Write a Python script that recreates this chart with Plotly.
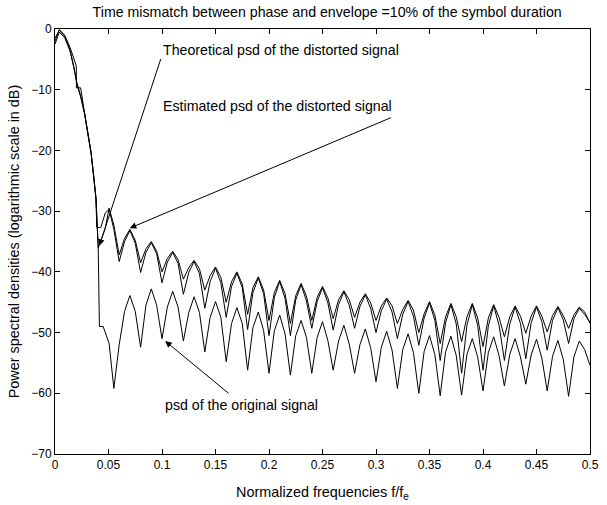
import plotly.graph_objects as go

# ---------------- data ----------------
# common frequency grid for the side-lobe region
freq_tail = [0.06, 0.065, 0.07, 0.075, 0.08, 0.085, 0.09, 0.095, 0.10, 0.105,
             0.11, 0.115, 0.12, 0.125, 0.13, 0.135, 0.14, 0.145, 0.15, 0.155,
             0.16, 0.165, 0.17, 0.175, 0.18, 0.185, 0.19, 0.195, 0.20, 0.205,
             0.21, 0.215, 0.22, 0.225, 0.23, 0.235, 0.24, 0.245, 0.25, 0.255,
             0.26, 0.265, 0.27, 0.275, 0.28, 0.285, 0.29, 0.295, 0.30, 0.305,
             0.31, 0.315, 0.32, 0.325, 0.33, 0.335, 0.34, 0.345, 0.35, 0.355,
             0.36, 0.365, 0.37, 0.375, 0.38, 0.385, 0.39, 0.395, 0.40, 0.405,
             0.41, 0.415, 0.42, 0.425, 0.43, 0.435, 0.44, 0.445, 0.45, 0.455,
             0.46, 0.465, 0.47, 0.475, 0.48, 0.485, 0.49, 0.495, 0.50]

# main lobe (per series)
theo_head_f = [0, 0.004, 0.009, 0.014, 0.0175, 0.0205, 0.024, 0.0276, 0.0306,
               0.0337, 0.0361, 0.0383, 0.0404, 0.047, 0.0506, 0.055]
theo_head_db = [-1.5, -0.2, -1.2, -3.4, -6.1, -8.9, -11.0, -13.8, -17.0,
                -20.3, -24.1, -27.9, -36.1, -32.8, -29.5, -32.3]

est_head_f = [0, 0.004, 0.009, 0.014, 0.0175, 0.0205, 0.024, 0.0276, 0.0306,
              0.0337, 0.0361, 0.0383, 0.039, 0.0428, 0.047, 0.0506, 0.055]
est_head_db = [-2.5, -0.5, -1.4, -3.6, -6.3, -9.1, -11.2, -14.0, -17.2,
               -20.5, -24.3, -28.0, -32.7, -32.7, -30.3, -29.7, -33.0]

orig_head_f = [0, 0.004, 0.009, 0.014, 0.0175, 0.0199, 0.02, 0.024, 0.0276,
               0.0306, 0.0337, 0.0361, 0.0383, 0.0404, 0.0415, 0.045, 0.0506, 0.055]
orig_head_db = [-2.0, -0.1, -1.0, -3.0, -4.8, -6.1, -9.7, -9.7, -13.8,
                -17.0, -20.3, -24.1, -27.9, -36.0, -49.0, -49.0, -51.8, -59.2]

theo_tail_db = [-37.2, -34.5, -33.0, -34.8, -38.5, -36.2, -35.0, -36.6, -40.0, -37.8,
                -36.6, -38.0, -41.2, -39.3, -38.1, -39.5, -43.0, -40.6, -39.2, -40.9,
                -45.0, -41.6, -40.0, -42.0, -47.0, -42.6, -40.8, -43.0, -48.0, -43.4,
                -41.4, -43.6, -48.5, -43.9, -41.9, -44.0, -48.0, -44.2, -42.4, -44.3,
                -47.7, -44.6, -43.1, -44.6, -47.5, -45.0, -43.6, -45.1, -48.0, -45.6,
                -44.3, -45.6, -48.5, -46.2, -44.7, -46.3, -50.0, -46.9, -44.9, -47.1,
                -51.8, -47.4, -45.2, -47.4, -51.5, -47.4, -45.2, -47.6, -52.3, -47.6,
                -45.4, -47.5, -50.7, -47.4, -45.6, -47.3, -50.1, -47.3, -45.6, -47.3,
                -49.9, -47.2, -45.7, -47.2, -49.3, -47.1, -45.8, -46.6, -48.5]

est_tail_db = [-38.3, -35.0, -33.2, -35.3, -40.1, -36.8, -35.2, -37.0, -41.8, -38.4,
               -36.8, -38.6, -43.7, -40.1, -38.3, -40.3, -46.0, -41.6, -39.4, -41.8,
               -47.5, -42.4, -40.2, -42.6, -49.5, -43.4, -41.0, -43.6, -50.5, -44.2,
               -41.6, -44.4, -50.5, -44.6, -42.1, -44.8, -49.3, -44.9, -42.6, -45.1,
               -49.6, -45.4, -43.3, -45.5, -49.3, -45.7, -43.8, -46.0, -50.0, -46.4,
               -44.5, -46.6, -51.0, -47.0, -44.9, -47.3, -52.1, -47.6, -45.1, -48.0,
               -54.6, -48.4, -45.4, -48.6, -56.7, -48.8, -45.4, -48.8, -56.2, -48.9,
               -45.6, -48.8, -54.6, -48.6, -45.8, -48.5, -54.3, -48.4, -45.8, -48.2,
               -52.9, -48.0, -45.9, -47.9, -51.8, -47.7, -46.0, -47.0, -48.3]

orig_tail_db = [-52.0, -46.5, -43.9, -46.5, -52.4, -45.5, -42.8, -45.5, -51.0, -45.8,
                -43.2, -45.8, -51.4, -46.7, -44.1, -46.7, -53.2, -47.5, -44.9, -47.5,
                -54.8, -48.5, -45.9, -48.5, -56.2, -49.2, -46.6, -49.7, -56.7, -49.7,
                -47.1, -50.2, -57.0, -50.5, -48.0, -50.8, -56.7, -50.8, -48.2, -51.3,
                -56.2, -51.4, -48.8, -51.9, -56.7, -52.0, -49.4, -52.5, -58.1, -52.4,
                -49.8, -52.9, -59.2, -52.8, -50.2, -53.3, -60.0, -53.1, -50.5, -53.6,
                -60.4, -53.2, -50.6, -53.8, -60.3, -53.6, -51.0, -54.0, -59.6, -53.3,
                -50.7, -53.8, -58.8, -53.6, -51.0, -54.0, -58.5, -53.7, -51.1, -54.2,
                -59.6, -53.9, -51.3, -54.4, -60.5, -54.0, -51.4, -52.8, -55.4]

x_ticks = [0, 0.05, 0.1, 0.15, 0.2, 0.25, 0.3, 0.35, 0.4, 0.45, 0.5]
x_tick_text = ["0", "0.05", "0.1", "0.15", "0.2", "0.25", "0.3", "0.35", "0.4", "0.45", "0.5"]
y_ticks = [-70, -60, -50, -40, -30, -20, -10, 0]

# ---------------- figure ----------------
FONT = "Liberation Sans, Arial, Helvetica, sans-serif"
fig = go.Figure()
line = dict(color="black", width=1)
fig.add_trace(go.Scatter(x=theo_head_f + freq_tail, y=theo_head_db + theo_tail_db,
                         mode="lines", line=line, name="theoretical"))
fig.add_trace(go.Scatter(x=est_head_f + freq_tail, y=est_head_db + est_tail_db,
                         mode="lines", line=line, name="estimated"))
fig.add_trace(go.Scatter(x=orig_head_f + freq_tail, y=orig_head_db + orig_tail_db,
                         mode="lines", line=line, name="original"))

texts = [
    ("Theoretical psd of the distorted signal", 0.0993, -3.4),
    ("Estimated psd of the distorted signal", 0.0993, -12.6),
    ("psd of the original signal", 0.101, -62.0),
]
for t, xx, yy in texts:
    fig.add_annotation(x=xx, y=yy, text=t, showarrow=False, xanchor="left",
                       yanchor="middle", font=dict(family=FONT, size=14.2, color="black"))

arrows = [
    (0.0414, -35.7, 0.0993, -4.7),
    (0.0699, -32.8, 0.3153, -14.5),
    (0.103, -51.4, 0.1636, -60.2),
]
for hx, hy, tx, ty in arrows:
    fig.add_annotation(x=hx, y=hy, ax=tx, ay=ty, axref="x", ayref="y", xref="x", yref="y",
                       text="", showarrow=True, arrowhead=2, arrowsize=1.3,
                       arrowwidth=1, arrowcolor="black", standoff=0, startstandoff=0)

fig.update_layout(
    width=607, height=505,
    margin=dict(l=55, r=8, t=29, b=47),
    paper_bgcolor="white", plot_bgcolor="white",
    showlegend=False,
    font=dict(family=FONT, size=12, color="black"),
    title=dict(text="Time mismatch between phase and envelope =10% of the symbol duration",
               x=0.5390, xanchor="center", y=0.976, yanchor="middle",
               font=dict(family=FONT, size=14.2, color="black")),
)
fig.update_xaxes(range=[0, 0.5], tickvals=x_ticks, ticktext=x_tick_text,
                 showgrid=False, zeroline=False, showline=True, linecolor="black",
                 linewidth=1, mirror="ticks", ticks="inside", ticklen=5,
                 tickcolor="black", tickfont=dict(size=12),
                 title=dict(text="Normalized frequencies f/f<sub>e</sub>",
                            font=dict(size=14.4), standoff=15))
fig.update_yaxes(range=[-70, 0], tickvals=y_ticks,
                 showgrid=False, zeroline=False, showline=True, linecolor="black",
                 linewidth=1, mirror="ticks", ticks="inside", ticklen=5,
                 tickcolor="black", tickfont=dict(size=12),
                 title=dict(text="Power spectral densities (logarithmic scale in dB)",
                            font=dict(size=14.4), standoff=8))

fig.write_html("out.html")
